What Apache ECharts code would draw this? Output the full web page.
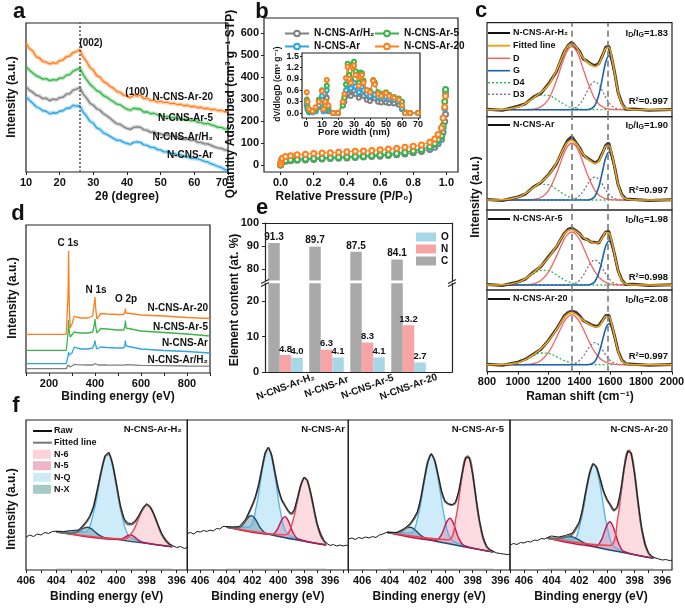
<!DOCTYPE html>
<html><head><meta charset="utf-8">
<script src="https://cdn.jsdelivr.net/npm/echarts@6/dist/echarts.min.js"></script>
<style>html,body{margin:0;padding:0;background:#fff;}#chart{width:685px;height:608px;}</style>
</head><body><div id="chart"></div>
<script>
// ================= DATA =================
// (a) XRD
const xrdX = [10,11,12,13,14,15,16,17,18,19,20,21,22,23,24,25,26,27,28,29,30,31,32,33,34,35,36,37,38,39,40,41,42,43,44,45,46,47,48,49,50,51,52,53,54,55,56,57,58,59,60,61,62,63,64,65,66,67,68,69,70];
const xrd20 = [128,123,120.5,115,113.5,110,109.5,107.5,109,108,111,111.5,115,115.5,119,120,122,114.5,110,104,101.5,96,94.5,90,88.5,85,83.5,80,79.5,76.5,75.5,74,76.5,75.5,76.5,73,73.5,71,71.5,69.5,70.5,69,69.5,68,68.5,67,67.5,66,66.5,65,65.5,64,64.5,63,63.5,62,62.5,61,61.5,60,60];
const xrd5 = [105,101.5,98.5,96,94.5,92.5,93,91,92,91.5,93.5,93.5,96.5,97,100.5,102,103.5,97,92,87.5,84.5,81,79.5,76,74.5,72,70,67.5,67,64.5,62.5,61.5,63.5,63,62.5,59.5,60,58,58.5,57,56.5,55,55.5,54,54.5,53,53.5,52,52.5,51,51.5,49.5,49.5,48,48.5,47,46,44.5,44.5,43,42.5];
const xrdH2 = [85,81.5,79.5,76.5,75.5,73,73.5,71,72.5,72,74,74.5,77.5,78,81.5,82.5,84,77.5,73.5,68.5,66.5,63,61.5,58,56,53.5,50.5,48,47.5,45,43.5,42.5,44.5,45,44.5,42,41.5,39.5,40,38,38,36.5,37,35.5,36,35,34,32.5,33,31.5,32,29.5,29.5,28,28,26.5,25,24,23.5,22,22];
const xrdAr = [75,71.5,68.5,65,63.5,61,60.5,58,59,58.5,60.5,61,63.5,63.5,66.5,65.5,66,59.5,55.5,50.5,48.5,44,42.5,39,37.5,35.5,33.5,31.5,31.5,29.5,28.5,27.5,29.5,30,29.5,27,26.5,24.5,24.5,22.5,22,20,20,18.5,18.5,17,17,15.5,15.5,13.5,13.5,13,12,10.5,10,8,7,5.5,4.5,2.5,1.5];
const xrdPeak = [26];
const aTicks = [10,20,30,40,50,60,70];

// (b) N2 isotherms + PSD inset
const isoX = [0,0.002,0.005,0.01,0.03,0.06,0.1,0.15,0.2,0.25,0.3,0.35,0.4,0.45,0.5,0.55,0.6,0.65,0.7,0.75,0.8,0.85,0.9,0.93,0.95,0.97,0.98,0.99,0.995];
const isoH2 = [2,7,12,15,19,21,23,25,27,29,31,33,34,36,38,40,42,45,48,52,57,63,72,82,98,118,150,200,232];
const isoAr = [3,9,15,19,24,27,29,31,33,35,37,38,40,42,44,46,49,52,56,61,67,74,82,95,110,130,170,260,330];
const iso5 = [2,8,14,18,22,25,27,29,31,33,35,37,38,40,42,44,47,50,54,59,65,72,85,100,118,135,180,290,345];
const iso20 = [5,15,25,32,40,44,48,51,54,56,58,60,62,64,66,68,71,74,78,82,87,93,105,120,140,170,215,265,315];
const psdX = [0.5,1,2,4,6,8,10,11,12,13,14,17,20,23,24,25,26,27,28,29,30,31,33,34,35,36,38,40,42,43,45,47,50,52,55,58,60,62,65,70];
const psd20 = [0.55,0.3,0.1,0.05,0.15,0.3,0.58,0.1,0.3,0.87,0.2,0,0,0.3,0.5,0.92,1.22,0.9,0.8,1.2,1.25,1.0,0.72,0.95,1.0,0.8,0.6,0.55,0.85,0.75,0.5,0.45,0.52,0.45,0.4,0.35,0.2,0,0,0];
const psd5 = [0.35,0.15,0.05,0.05,0.1,0.35,0.6,0.1,0.2,0.72,0.15,0,0,0.2,0.4,0.75,1.3,1.0,0.9,1.28,1.35,1.1,0.8,1.07,1.05,0.85,0.6,0.58,0.87,0.8,0.55,0.5,0.55,0.48,0.42,0.38,0.3,0.02,0,0];
const psdAr = [0.25,0.1,0.02,0.02,0.05,0.2,0.45,0.05,0.15,0.6,0.1,0,0,0.25,0.4,0.6,0.85,0.7,0.65,0.82,0.8,0.7,0.55,0.7,0.68,0.6,0.5,0.45,0.5,0.48,0.42,0.4,0.42,0.38,0.35,0.3,0.12,0,0,0];
const psdH2 = [0.2,0.1,0.02,0.02,0.05,0.15,0.35,0.05,0.1,0.4,0.05,0,0,0.2,0.3,0.45,0.55,0.5,0.45,0.6,0.58,0.5,0.4,0.55,0.52,0.45,0.35,0.32,0.4,0.38,0.3,0.28,0.28,0.26,0.25,0.22,0.1,0,0,0];
const bXTicks = [0,0.2,0.4,0.6,0.8,1.0];
const bYTicks = [0,100,200,300,400,500,600];
const bInXTicks = [0,10,20,30,40,50,60,70];
const bInYTicks = [0,0.3,0.6,0.9,1.2,1.5];

// (c) Raman
const ramanX = [800,900,1000,1050,1100,1150,1200,1250,1300,1325,1350,1375,1400,1425,1450,1475,1500,1525,1550,1570,1590,1610,1630,1650,1675,1700,1750,1850,2000];
const ramanPeaks = [1350,1585];
const raman1Raw = [7.5,6.5,10.5,13,19.5,23.5,33,45,65,71,74.5,70,65.5,57.5,55.5,52.5,51,53,61.5,69.5,70.5,58,42.5,24.5,13.5,7.5,7.8,6.5,7.2];
const raman1Fit = [7,7.2,9.6,13.2,18.6,24.4,32,46.1,64,70.6,72.7,70.1,64.6,58.5,54.6,52,50,52.5,61.2,68.2,69,58.6,41.7,25,12.6,8.2,7,7,7];
const raman1D = [7,7,7,7,7.5,9.8,17.7,36,58.7,66.9,70,66.9,58.7,47.3,36,25.9,17.7,12.7,9.8,8.4,7.7,7.3,7.1,7,7,7,7,7,7];
const raman1G = [7,7,7,7,7,7,7,7,7,7,7,7,7,7,7,7.9,11.3,21.6,39.9,54.5,61,54.5,39.9,24.3,12.4,8.2,7,7,7];
const raman1D4 = [7,7.2,9.6,13.2,18.1,21.6,21.3,17.1,12.3,10.5,9,8.1,7.6,7.3,7.1,7,7,7,7,7,7,7,7,7,7,7,7,7,7];
const raman1D3 = [7,7,7,7,7,7,7,7,7,7.2,7.7,9.1,12.3,17.9,25.5,32.2,35,32.2,25.5,19.3,14.3,10.8,8.7,7.7,7.2,7,7,7,7];
const raman2Raw = [10.5,9.5,13,16,23,27.5,35.5,46,63,70,73.5,68,62.5,55,52,49.5,47,49.5,57.5,64.5,67,55,41.5,25.5,15.5,11,10.5,9.5,10.3];
const raman2Fit = [10,10.2,12.7,16.6,22.3,28.1,34.9,46.9,62.3,68,69.8,67.1,61.7,55.8,51.5,48.6,46.5,48.8,57,63.6,64.6,55.6,40.8,26,14.9,11.1,10,10,10];
const raman2D = [10,10,10,10,10.5,12.5,19.7,36.2,56.7,64.2,67,64.2,56.7,46.5,36.2,27.1,19.7,15.1,12.5,11.3,10.6,10.3,10.1,10,10,10,10,10,10];
const raman2G = [10,10,10,10,10,10,10,10,10,10,10,10,10,10,10,10.8,13.8,23,39.3,52.2,58,52.2,39.3,25.4,14.8,11.1,10,10,10];
const raman2D4 = [10,10.2,12.7,16.6,21.8,25.6,25.2,20.7,15.6,13.7,12.2,11.2,10.6,10.3,10.1,10,10,10,10,10,10,10,10,10,10,10,10,10,10];
const raman2D3 = [10,10,10,10,10,10,10,10,10,10.1,10.6,11.7,14.4,19,25.2,30.7,33,30.7,25.2,20.1,16,13.1,11.4,10.6,10.1,10,10,10,10];
const raman3Raw = [5.5,4.5,8,11,17.8,23.5,33.5,43,56.5,60.5,62,59.5,56.5,51.5,50.5,48,47.5,47,53.5,58,58.5,47,34,19.5,10,5.5,5.8,4.5,5.3];
const raman3Fit = [5,5.2,7.6,11.4,17.2,24.1,32.6,43.7,55.9,59.5,60.6,58.9,56,52.7,50.2,48.3,46.8,47.4,52.8,57.4,57,47.9,33.7,19.9,9.5,6,5,5,5];
const raman3D = [5,5,5,5.2,6.1,9.5,18.3,33.6,50.6,55.9,58,55.9,50.6,42.6,33.6,25.1,18.3,13,9.5,7.7,6.5,5.8,5.4,5.2,5,5,5,5,5];
const raman3G = [5,5,5,5,5,5,5,5,5,5,5,5,5,5,5,5.7,8.5,16.9,31.8,43.7,49,43.7,31.8,19.1,9.4,6,5,5,5];
const raman3D4 = [5,5.2,7.6,11.2,16.1,19.6,19.3,15.1,10.3,8.5,7,6.1,5.6,5.3,5.1,5,5,5,5,5,5,5,5,5,5,5,5,5,5];
const raman3D3 = [5,5,5,5,5,5,5,5,5,5.2,5.6,6.9,9.8,14.8,21.5,27.5,30,27.5,21.5,16,11.5,8.4,6.5,5.6,5.2,5,5,5,5];
const raman4Raw = [7.5,6.5,9.5,12.5,17.5,22.5,31.5,42.5,55.5,59,60.5,59.5,56,51,49,47,45.5,46,51.5,56,56.5,46,34,21,11.5,8,7.5,6.5,7.2];
const raman4Fit = [7,7.1,9,12.1,16.9,22.9,30.9,42,54.2,57.9,59.1,57.6,54.7,51.3,48.6,46.5,44.8,45.4,50.7,55.3,55.1,46.8,33.7,20.8,11.2,7.9,7,7,7];
const raman4D = [7,7,7,7.2,8,11.2,19.5,34,50,55,57,55,50,42.5,34,26,19.5,14.5,11.2,9.5,8.4,7.8,7.4,7.2,7,7,7,7,7];
const raman4G = [7,7,7,7,7,7,7,7,7,7,7,7,7,7,7,7.7,10.3,18.1,32,43.1,48,43.1,32,20.1,11.1,7.9,7,7,7];
const raman4D4 = [7,7.1,9,11.9,15.9,18.7,18.4,15,11.2,9.8,8.6,7.9,7.5,7.2,7.1,7,7,7,7,7,7,7,7,7,7,7,7,7,7];
const raman4D3 = [7,7,7,7,7,7,7,7,7,7.1,7.5,8.7,11.2,15.6,21.5,26.8,29,26.8,21.5,16.7,12.7,10,8.3,7.5,7.1,7,7,7,7];
const ramanRatios = ['1.83','1.90','1.98','2.08'];
const ramanR2 = ['0.997','0.997','0.998','0.997'];
const cTicks = [800,1000,1200,1400,1600,1800,2000];

// (d) XPS survey
const surveyX = [100,275,280,283,285,288,292,300,310,320,340,370,390,397,400,403,408,415,425,450,500,525,530,532,535,540,600,700,800,900];
const survey20 = [38.7,38.7,40,80,122,70,45,49,57,56,55,55,57,70,76,65,54,56,59.5,59,58.5,58.5,61,64.5,60,58.5,58,57,55.5,54.5];
const survey5 = [22.7,22.7,24,40,53,42,36,38,41,40.5,40,40,41,48,54,47,40,42,44.5,44,43,43,47,52.5,45,43,42,40.5,39,37];
const surveyAr = [9.4,9.4,10,17,21,18,16,20,26,25,24,24,25,29,32.5,28,24,25,26,25.5,25,25,28,32.5,27,25,24,22.5,21.5,20];
const surveyH2 = [4.4,4.4,5,8,9.4,7,6,7,8.5,8.3,8.2,8,8,8.8,9.3,8.6,8,8,8.2,8,7.8,7.8,8.5,9.3,8.3,7.8,7.6,7.3,7,6.8];
const dTicks = [200,400,600,800];
const dMinor = [100,200,300,400,500,600,700,800,900];

// (e) element content
const eCats = ['N-CNS-Ar-H₂','N-CNS-Ar','N-CNS-Ar-5','N-CNS-Ar-20'];
const eC = [91.3,89.7,87.5,84.1];
const eN = [4.8,6.3,8.3,13.2];
const eO = [4.0,4.1,4.1,2.7];
const eUpperTicks = [80,90,100];
const eLowerTicks = [0,10,20];

// (f) N 1s high-resolution
const fTicks = [396,398,400,402,404,406];
const fMinor = [395,396,397,398,399,400,401,402,403,404,405,406,407];
const xps12FitX = [404,403.5,403,402.5,402,401.75,401.5,401.25,401,400.75,400.5,400.25,400,399.75,399.5,399.25,399,398.75,398.5,398.25,398,397.75,397.5,397.25,397,396.75,396.5,396.3];
const xps1Fit = [38.3,37.3,36.8,39.4,47.7,54.1,64.6,81.0,99.1,113.6,115.9,104.9,85.1,64.5,51.0,45.6,45.5,48.6,54.3,61.0,64.9,62.6,54.8,45.0,35.7,29.6,25.9,24.2];
const xps1RawX = [406,405.75,405.5,405.25,405,404.75,404.5,404.25,404,403.5,403,402.5,402,401.75,401.5,401.25,401,400.75,400.5,400.25,400,399.75,399.5,399.25,399,398.75,398.5,398.25,398,397.75,397.5,397.25,397,396.75,396.5,396.3,396,395.75,395.5,395.3];
const xps1Raw = [33,35,33.5,36,35,37.5,36.5,38.5,38.8,38.5,39.5,40,48.5,54,64,81.5,99.5,114.5,118,106,86,65,51.5,47,46.5,49,55,62,66.5,63,55,45.5,36.5,30,26,24.5,22.5,23.5,21.5,22.5];
const xps1Bg = [[404,38.3],[396.3,23.3]];
const xps1NQ = [[404,38.3],[402.07,38.2],[401.47,60.6],[401.17,84.7],[400.87,107.0],[400.57,116.6],[400.27,105.8],[399.97,82.4],[399.67,57.1],[399.07,32.4],[396.3,23.3]];
const xps1N6 = [[404,38.3],[399.44,31.1],[398.84,40.5],[398.54,51.2],[398.24,61.0],[397.94,65.0],[397.64,59.8],[397.34,48.8],[397.04,37.0],[396.44,25.3],[396.3,23.3]];
const xps1N5 = [[404,38.3],[399.93,30.7],[399.58,31.7],[399.4,33.1],[399.23,34.5],[399.05,35.0],[398.88,33.8],[398.7,31.8],[398.53,29.6],[398.18,27.3],[396.3,23.3]];
const xps1NX = [[404,38.3],[403.03,36.8],[402.58,38.2],[402.35,40.3],[402.13,42.2],[401.9,42.7],[401.68,41.3],[401.45,38.5],[401.23,35.6],[400.78,32.4],[396.3,23.3]];
const xps2Fit = [43.0,41.9,42.3,50.3,64.4,72.8,85.4,101.1,116.5,121.8,114.0,97.6,81.3,70.7,65.0,59.3,56.0,60.0,71.9,85.0,92.1,89.1,76.7,60.9,45.7,35.2,29.2,26.6];
const xps2RawX = [407,406.75,406.5,406.25,406,405.75,405.5,405.25,405,404.75,404.5,404.25,404,403.5,403,402.5,402,401.75,401.5,401.25,401,400.75,400.5,400.25,400,399.75,399.5,399.25,399,398.75,398.5,398.25,398,397.75,397.5,397.25,397,396.75,396.5,396.3,396,395.75,395.5,395.25,395,394.75,394.6];
const xps2Raw = [36.5,37.5,36,38.5,38,39.5,38.5,40,39,41.5,41,43.5,43.5,43,43.5,50.8,65,73.5,85,101.5,117.3,123,114.8,97.4,81.8,71.2,64.5,59.8,56.5,60.4,72.5,85.5,93,89.6,77.3,61.4,46.2,35.8,29.6,27,24.5,25.5,24,25,24,24.8,24];
const xps2Bg = [[404,43.0],[396.3,25.0]];
const xps2NQ = [[404,43.0],[402.26,42.7],[401.66,65.0],[401.36,89.3],[401.06,111.8],[400.76,121.4],[400.46,110.4],[400.16,86.5],[399.86,60.8],[399.26,35.7],[396.3,25.0]];
const xps2N6 = [[404,43.0],[399.43,35.1],[398.83,51.2],[398.53,68.9],[398.23,85.4],[397.93,92.3],[397.63,84.0],[397.33,66.1],[397.03,47.0],[396.43,28.1],[396.3,25.0]];
const xps2N5 = [[404,43.0],[400.47,35.6],[400.07,40.5],[399.87,46.1],[399.67,51.4],[399.47,53.4],[399.27,50.4],[399.07,44.3],[398.87,37.7],[398.47,31.0],[396.3,25.0]];
const xps2NX = [[404,43.0],[403.17,41.8],[402.72,45.1],[402.49,49.3],[402.27,53.1],[402.04,54.4],[401.82,52.0],[401.59,47.2],[401.37,42.0],[400.92,36.5],[396.3,25.0]];
const xps3FitX = [404.2,403.75,403.5,403,402.5,402,401.75,401.5,401.25,401,400.75,400.5,400.25,400,399.75,399.5,399.25,399,398.75,398.5,398.25,398,397.75,397.5,397.25,397,396.75,396.5];
const xps3Fit = [37.7,36.9,37.1,40.4,46.1,57.5,71.5,90.6,108.0,115.6,109.4,94.4,78.0,68.5,65.8,64.9,67.1,78.6,97.3,112.3,112.2,96.0,70.6,48.1,31.8,23.6,19.9,18.3];
const xps3RawX = [407,406.75,406.5,406.25,406,405.75,405.5,405.25,405,404.75,404.5,404.25,404.2,403.75,403.5,403,402.5,402,401.75,401.5,401.25,401,400.75,400.5,400.25,400,399.75,399.5,399.25,399,398.75,398.5,398.25,398,397.75,397.5,397.25,397,396.75,396.5,396.25,396,395.75,395.5,395.3];
const xps3Raw = [31,32,30.5,32.5,31.5,33,32,33.5,32.5,35,36,37.5,38,37.5,37.6,40.9,46.5,58,72,91,108.5,116.5,109.8,94.8,78.4,69,66.2,65.3,67.5,79,97.7,113,112.8,96.4,71,48.5,32.2,24,20.3,18.6,17,16.5,16,15.5,15.7];
const xps3Bg = [[404.2,37.7],[396.5,18.0]];
const xps3NQ = [[404.2,37.7],[402.47,37.1],[401.87,59.2],[401.57,83.5],[401.27,105.9],[400.97,115.4],[400.67,104.4],[400.37,80.4],[400.07,54.6],[399.47,29.4],[396.5,18.0]];
const xps3N6 = [[404.2,37.7],[399.74,30.3],[399.19,54.2],[398.91,80.0],[398.64,104.0],[398.36,114.3],[398.09,102.6],[397.81,77.2],[397.54,50.0],[396.99,23.3],[396.5,18.0]];
const xps3N5 = [[404.2,37.7],[400.64,29.7],[400.24,35.8],[400.04,42.8],[399.84,49.1],[399.64,51.7],[399.44,48.1],[399.24,40.7],[399.04,32.7],[398.64,24.6],[396.5,18.0]];
const xps3NX = [[404.2,37.7],[403.74,36.9],[403.24,38.2],[402.99,40.3],[402.74,42.3],[402.49,42.7],[402.24,41.0],[401.99,37.7],[401.74,34.4],[401.24,30.5],[396.5,18.0]];
const xps4FitX = [404.3,404,403.5,403,402.5,402,401.75,401.5,401.25,401,400.75,400.5,400.25,400,399.75,399.5,399.25,399,398.75,398.5,398.25,398,397.75,397.5,397.25,397,396.75,396.6];
const xps4Fit = [31.9,31.4,31.6,33.0,35.8,47.3,61.0,79.8,96.5,105.8,102.6,91.2,78.7,70.3,64.7,59.4,62.9,78.5,102.3,118.4,116.6,96.2,67.6,42.0,25.5,17.0,13.3,12.1];
const xps4RawX = [407,406.75,406.5,406.25,406,405.75,405.5,405.25,405,404.75,404.5,404.3,404,403.5,403,402.5,402,401.75,401.5,401.25,401,400.75,400.5,400.25,400,399.75,399.5,399.25,399,398.75,398.5,398.25,398,397.75,397.5,397.25,397,396.75,396.6,396.25,396,395.75,395.5,395.3];
const xps4Raw = [25,26.5,25.5,27.5,27,28.5,28,30,29.5,31.5,31,32.5,34,33,34.5,37,47.8,61.5,80.5,97,106.5,103,91.8,79,70.8,65.5,60,63.4,79,103,119.2,117.3,96.8,68,42.5,25.8,17.3,13.6,12.5,11,10,10.5,9.5,9.8];
const xps4Bg = [[404.3,31.7],[396.6,11.7]];
const xps4NQ = [[404.3,31.7],[402.44,30.5],[401.84,51.8],[401.54,74.9],[401.24,96.6],[400.94,105.7],[400.64,95.0],[400.34,71.8],[400.04,47.1],[399.44,22.7],[396.6,11.7]];
const xps4N6 = [[404.3,31.7],[399.77,24.5],[399.22,51.7],[398.94,81.1],[398.67,108.4],[398.39,120.1],[398.12,106.9],[397.84,78.2],[397.57,47.4],[397.02,17.4],[396.6,11.7]];
const xps4N5 = [[404.3,31.7],[400.78,23.8],[400.38,30.6],[400.18,38.3],[399.98,45.4],[399.78,48.3],[399.58,44.3],[399.38,36.2],[399.18,27.5],[398.78,18.6],[396.6,11.7]];
const xps4NX = [[404.3,31.7],[404.18,31.7],[403.53,31.6],[403.2,32.5],[402.88,33.3],[402.55,33.2],[402.23,31.6],[401.9,29.2],[401.58,26.5],[400.93,23.2],[396.6,11.7]];

// ================= BUILD =================
const FONT = "'Liberation Sans', Arial, Helvetica, 'DejaVu Sans', sans-serif";
const INK = '#111';
const COL = {orange:'#ff7f1e', green:'#3ab54a', gray:'#808080', blue:'#2ea7e0'};
const grid = [], xAxis = [], yAxis = [], series = [], graphic = [], legend = [];

function lab(size, margin, extra){ return Object.assign({show:true, color:INK, fontFamily:FONT, fontWeight:'bold', fontSize:size, margin:margin, formatter:v=>String(v)}, extra||{}); }
function tk(vals, inside, len){ return {show:true, inside: inside===true, length: len||3, customValues: vals, lineStyle:{color:'#222', width:1}}; }
const LINE = {show:true, onZero:false, lineStyle:{color:'#222', width:1.2}};
function ax(o){ return Object.assign({type:'value', axisLine:{show:false, onZero:false}, axisTick:{show:false}, axisLabel:{show:false}, splitLine:{show:false}, z:6}, o); }
function addGrid(rect, xo, yo, frame){
  grid.push(Object.assign({show: frame!==false, borderColor:'#222', borderWidth:1.2, backgroundColor:'transparent', containLabel:false, outerBoundsMode:'none'}, rect));
  const gi = grid.length-1;
  xAxis.push(ax(Object.assign({gridIndex:gi}, xo)));
  yAxis.push(ax(Object.assign({gridIndex:gi}, yo)));
  return {gi:gi, xAxisIndex:xAxis.length-1, yAxisIndex:yAxis.length-1};
}
function on(g){ return {xAxisIndex:g.xAxisIndex, yAxisIndex:g.yAxisIndex}; }
function pairs(xs, ys){ return xs.map((x,i)=>[x, ys[i]]); }
function T(x,y,text,o){ o=o||{}; const size=o.size||10; const al=o.align||'center'; const va=o.va||'middle';
  graphic.push({type:'text', x:x, y:y, rotation:o.rot||0, z:100, silent:true,
    style:{text:text, fill:o.color||INK, font:'bold '+size+'px '+FONT, align:al, verticalAlign:va, textAlign:al, textVerticalAlign:va, rich:o.rich}});
}
function LG(x1,x2,y,color,w,dash){ graphic.push({type:'line', z:100, silent:true, shape:{x1:x1,y1:y,x2:x2,y2:y}, style:{stroke:color, lineWidth:w, lineDash:dash||null}}); }
function SEG(x1,y1,x2,y2,color,w){ graphic.push({type:'line', z:100, silent:true, shape:{x1:x1,y1:y1,x2:x2,y2:y2}, style:{stroke:color, lineWidth:w}}); }
function RC(x,y,w,h,fill){ graphic.push({type:'rect', z:100, silent:true, shape:{x:x,y:y,width:w,height:h}, style:{fill:fill}}); }
function richSub(size){ return {
  m:{fontSize:size, fontWeight:'bold', fontFamily:FONT, fill:INK, color:INK},
  s:{fontSize:Math.round(size*0.72), fontWeight:'bold', fontFamily:FONT, fill:INK, color:INK, padding:[Math.round(size*0.55),0,0,0]} }; }

// ---- panel letters
T(19,12,'a',{size:22}); T(262,12,'b',{size:22}); T(481,11,'c',{size:22});
T(18,214,'d',{size:22}); T(262,208,'e',{size:22}); T(16,406,'f',{size:22});

// ---- (a)
const A = addGrid({left:26, top:23, width:202, height:149},
  {min:10, max:70, axisTick:tk(aTicks), axisLabel:lab(11,5,{customValues:aTicks, alignMaxLabel:'right'})},
  {min:0, max:148.4});
[[xrdAr,COL.blue],[xrdH2,COL.gray],[xrd5,COL.green],[xrd20,COL.orange]].forEach(function(s,i){
  const data = pairs(xrdX, s[0]);
  series.push(Object.assign({type:'line', name:'xrd-halo-'+i, data:data, symbol:'none', silent:true, z:2, lineStyle:{color:s[1], width:4, opacity:0.35}}, on(A)));
  const main = Object.assign({type:'line', name:'xrd-'+i, data:data, symbol:'none', silent:true, z:3, lineStyle:{color:s[1], width:1.3}}, on(A));
  if(i===3) main.markLine = {silent:true, symbol:['none','none'], label:{show:false}, lineStyle:{color:'#555', type:[2,2], width:1.5}, data: xrdPeak.map(v=>({xAxis:v}))};
  series.push(main);
});
T(91,43,'(002)',{size:10}); T(137,92,'(100)',{size:10});
T(213,97,'N-CNS-Ar-20',{size:10, align:'right'});
T(213,118,'N-CNS-Ar-5',{size:10, align:'right'});
T(213,137,'N-CNS-Ar/H₂',{size:10, align:'right'});
T(213,155,'N-CNS-Ar',{size:10, align:'right'});
T(12,97,'Intensity (a.u.)',{size:12, rot:Math.PI/2});
T(127,197,'2θ (degree)',{size:12});

// ---- (b)
const B = addGrid({left:264, top:18, width:194, height:154},
  {min:-0.1, max:1.07, axisTick:tk(bXTicks), axisLabel:lab(11,5,{customValues:bXTicks, formatter:v=>(+v).toFixed(1)})},
  {min:-30, max:670, axisTick:tk(bYTicks), axisLabel:lab(11,5,{customValues:bYTicks})});
const BI = addGrid({left:302, top:53, width:118, height:65},
  {min:-2.5, max:71.25, axisTick:tk(bInXTicks,false,2), axisLabel:lab(9,2,{customValues:bInXTicks})},
  {min:-0.13, max:1.58, axisTick:tk(bInYTicks,false,2), axisLabel:lab(9,3,{customValues:bInYTicks, formatter:v=>(+v).toFixed(1)})});
const bSets = [['N-CNS-Ar/H₂',isoH2,psdH2,COL.gray],['N-CNS-Ar',isoAr,psdAr,COL.blue],['N-CNS-Ar-5',iso5,psd5,COL.green],['N-CNS-Ar-20',iso20,psd20,COL.orange]];
bSets.forEach(function(s){
  series.push(Object.assign({type:'line', name:s[0], data:pairs(isoX,s[1]), symbol:'emptyCircle', symbolSize:5, silent:true, z:3,
    lineStyle:{color:s[3], width:1}, itemStyle:{color:s[3], borderWidth:1.2}}, on(B)));
});
bSets.forEach(function(s){
  series.push(Object.assign({type:'line', name:s[0], data:pairs(psdX,s[2]), symbol:'emptyCircle', symbolSize:4, silent:true, z:3,
    lineStyle:{color:s[3], width:1}, itemStyle:{color:s[3], borderWidth:1.1}}, on(BI)));
});
const bLegText = {fontFamily:FONT, fontWeight:'bold', fontSize:10, color:INK, lineHeight:11};
legend.push({left:279, top:23, orient:'vertical', itemGap:2, itemWidth:24, itemHeight:7, selectedMode:false, data:['N-CNS-Ar/H₂','N-CNS-Ar'], textStyle:bLegText});
legend.push({left:369, top:23, orient:'vertical', itemGap:2, itemWidth:24, itemHeight:7, selectedMode:false, data:['N-CNS-Ar-5','N-CNS-Ar-20'], textStyle:bLegText});
T(231,104,'Quantity Adsorbed (cm³ g⁻¹ STP)',{size:12, rot:Math.PI/2});
T(344,197,'Relative Pressure (P/P₀)',{size:12});
T(278,84,'dV/dlogD (cm³ g⁻¹)',{size:8.5, rot:Math.PI/2});
T(354,132,'Pore width (nm)',{size:9.5});

// ---- (c)
const ramanSets = [
  {top:22.7, h:94,  raw:raman1Raw, fit:raman1Fit, D:raman1D, G:raman1G, D4:raman1D4, D3:raman1D3, name:'N-CNS-Ar-H₂', ly:33,  ry:101.7},
  {top:116.7,h:93.3,raw:raman2Raw, fit:raman2Fit, D:raman2D, G:raman2G, D4:raman2D4, D3:raman2D3, name:'N-CNS-Ar',   ly:125, ry:190},
  {top:210,  h:80,  raw:raman3Raw, fit:raman3Fit, D:raman3D, G:raman3G, D4:raman3D4, D3:raman3D3, name:'N-CNS-Ar-5', ly:219, ry:277},
  {top:290,  h:81.7,raw:raman4Raw, fit:raman4Fit, D:raman4D, G:raman4G, D4:raman4D4, D3:raman4D3, name:'N-CNS-Ar-20',ly:299, ry:356.7}];
ramanSets.forEach(function(s,k){
  const last = k===ramanSets.length-1;
  const g = addGrid({left:487, top:s.top, width:185, height:s.h},
    {min:800, max:2000, axisTick: last? tk(cTicks):{show:false}, axisLabel: last? lab(11,5,{customValues:cTicks}):{show:false}},
    {min:0, max:s.h});
  function comp(d,color,w,type){ series.push(Object.assign({type:'line', name:'raman-c', data:pairs(ramanX,d), symbol:'none', smooth:0.4, silent:true, z:2, lineStyle:{color:color, width:w, type:type}}, on(g))); }
  comp(s.D4,'#2dbb4f',1.3,[2,2]);
  comp(s.D3,'#77778f',1.3,[2,2]);
  comp(s.D,'#f26464',1.3,'solid');
  comp(s.G,'#1a63ad',1.6,'solid');
  series.push(Object.assign({type:'line', name:'raman-raw', data:pairs(ramanX,s.raw), symbol:'none', silent:true, z:3, lineStyle:{color:'#3a3a3a', width:3}}, on(g)));
  series.push(Object.assign({type:'line', name:'raman-fit', data:pairs(ramanX,s.fit), symbol:'none', smooth:0.4, silent:true, z:4, lineStyle:{color:'#f4a417', width:1.5},
    markLine:{silent:true, symbol:['none','none'], label:{show:false}, lineStyle:{color:'#7a7a7a', type:[6,4], width:1.6}, data: ramanPeaks.map(v=>({xAxis:v}))}}, on(g)));
  LG(488,510,s.ly,'#111',2);
  T(513,s.ly,s.name,{size:9, align:'left'});
  T(668,s.ly,'{m|I}{s|D}{m|/I}{s|G}{m|='+ramanRatios[k]+'}',{size:9.5, align:'right', rich:richSub(9.5)});
  T(668,s.ry,'R²='+ramanR2[k],{size:9.5, align:'right'});
});
const cLeg = [['Fitted line','#f4a417',2,null,45.7],['D','#f26464',1.5,null,58.3],['G','#1a63ad',1.6,null,70.7],['D4','#2dbb4f',1.4,[2,2],82.7],['D3','#77778f',1.4,[2,2],94.3]];
cLeg.forEach(function(r){ LG(488,510,r[4],r[1],r[2],r[3]); T(513,r[4],r[0],{size:9, align:'left'}); });
T(476,197,'Intensity (a.u.)',{size:12, rot:Math.PI/2});
T(580,397,'Raman shift (cm⁻¹)',{size:12});

// ---- (d)
const D = addGrid({left:26, top:225, width:184, height:148},
  {min:100, max:900, axisTick:tk(dMinor), axisLabel:lab(11,5,{customValues:dTicks})},
  {min:0, max:148});
[[surveyH2,COL.gray],[surveyAr,COL.blue],[survey5,COL.green],[survey20,COL.orange]].forEach(function(s,i){
  series.push(Object.assign({type:'line', name:'survey-'+i, data:pairs(surveyX,s[0]), symbol:'none', silent:true, z:3, lineStyle:{color:s[1], width:1.3}}, on(D)));
});
T(68,243,'C 1s',{size:10}); T(96,290,'N 1s',{size:10}); T(126,299,'O 2p',{size:10});
T(208,308,'N-CNS-Ar-20',{size:10, align:'right'});
T(208,327,'N-CNS-Ar-5',{size:10, align:'right'});
T(208,343,'N-CNS-Ar',{size:10, align:'right'});
T(208,360,'N-CNS-Ar/H₂',{size:10, align:'right'});
T(13,298,'Intensity (a.u.)',{size:12, rot:Math.PI/2});
T(118,397,'Binding energy (eV)',{size:12});

// ---- (e)
const EU = addGrid({left:265, top:223, width:187, height:57.5},
  {min:0.5, max:5.06, position:'top', axisLine:LINE},
  {min:75, max:100, axisLine:LINE, axisTick:tk(eUpperTicks,false,3), axisLabel:lab(11,6,{customValues:eUpperTicks})}, false);
yAxis.push(ax({gridIndex:EU.gi, position:'right', min:75, max:100, axisLine:LINE}));
const EL = addGrid({left:265, top:283.3, width:187, height:88.7},
  {min:0.5, max:5.06, axisLine:LINE, axisLabel:lab(10,15,{customValues:[1,2,3,4], rotate:20, align:'center', verticalAlign:'middle', formatter:v=>eCats[Math.round(v)-1]})},
  {min:0, max:25, axisLine:LINE, axisTick:tk(eLowerTicks,false,3), axisLabel:lab(11,6,{customValues:eLowerTicks})}, false);
yAxis.push(ax({gridIndex:EL.gi, position:'right', min:0, max:25, axisLine:LINE}));
const eCol = {C:'#a9a9a9', N:'#f8a3a5', O:'#a7d7e6'};
function bars(g, name, vals, labSize, blank){
  series.push(Object.assign({type:'bar', name:name, data: vals.map((v,i)=>[i+1, blank? '-' : v]), barWidth:11.5, barGap:'0%', silent:true, z:3,
    itemStyle:{color:eCol[name]},
    label: labSize? {show:true, position:'top', distance:1, color:INK, fontFamily:FONT, fontWeight:'bold', fontSize:labSize, formatter:p=>(+p.value[1]).toFixed(1)} : {show:false}}, on(g)));
}
bars(EU,'C',eC,10,false); bars(EU,'N',eN,0,true); bars(EU,'O',eO,0,true);
bars(EL,'C',eC,0,false); bars(EL,'N',eN,9.5,false); bars(EL,'O',eO,9.5,false);
legend.push({left:411, top:227, orient:'vertical', itemWidth:20, itemHeight:9, itemGap:2, icon:'rect', selectedMode:false, data:['O','N','C'],
  textStyle:{fontFamily:FONT, fontWeight:'bold', fontSize:10, color:INK, lineHeight:10}});
[265,452].forEach(function(x){ SEG(x-4,283.5,x+4,279.5,'#222',1.2); SEG(x-4,286.5,x+4,282.5,'#222',1.2); });
T(235,300,'Element content (at. %)',{size:12, rot:Math.PI/2});

// ---- (f)
const fSets = [
  {left:26,    width:161.3, min:395.3, max:406, rawX:xps1RawX, raw:xps1Raw, fitX:xps12FitX, fit:xps1Fit, bg:xps1Bg, NQ:xps1NQ, N6:xps1N6, N5:xps1N5, NX:xps1NX, name:'N-CNS-Ar-H₂', nx:181.7},
  {left:187.3, width:161,   min:394.6, max:407, rawX:xps2RawX, raw:xps2Raw, fitX:xps12FitX, fit:xps2Fit, bg:xps2Bg, NQ:xps2NQ, N6:xps2N6, N5:xps2N5, NX:xps2NX, name:'N-CNS-Ar', nx:345},
  {left:348.3, width:161.7, min:395.3, max:407, rawX:xps3RawX, raw:xps3Raw, fitX:xps3FitX,  fit:xps3Fit, bg:xps3Bg, NQ:xps3NQ, N6:xps3N6, N5:xps3N5, NX:xps3NX, name:'N-CNS-Ar-5', nx:504},
  {left:510,   width:162,   min:395.3, max:407, rawX:xps4RawX, raw:xps4Raw, fitX:xps4FitX,  fit:xps4Fit, bg:xps4Bg, NQ:xps4NQ, N6:xps4N6, N5:xps4N5, NX:xps4NX, name:'N-CNS-Ar-20', nx:668}];
const fSty = {NQ:{line:'#5db5e6', fill:'rgba(190,228,248,0.75)'}, N6:{line:'#ee4753', fill:'rgba(250,196,205,0.6)'}, N5:{line:'#c0174e', fill:'rgba(205,100,145,0.35)'}, NX:{line:'#1c4b70', fill:'rgba(95,145,150,0.45)'}};
fSets.forEach(function(s){
  const inR = v => v>=s.min-1e-9 && v<=s.max+1e-9;
  const g = addGrid({left:s.left, top:420, width:s.width, height:150},
    {min:s.min, max:s.max, inverse:true, axisTick:tk(fMinor.filter(inR)), axisLabel:lab(11,5,{customValues:fTicks.filter(inR)})},
    {min:0, max:150});
  ['NQ','N6','N5','NX'].forEach(function(k){
    series.push(Object.assign({type:'line', name:'xps-area', data:s[k], symbol:'none', smooth:0.3, silent:true, z:1,
      lineStyle:{opacity:0, width:0}, areaStyle:{color:fSty[k].fill, opacity:1, origin:1.5}}, on(g)));
  });
  const b0 = s.bg[0], b1 = s.bg[s.bg.length-1];
  const mask = [[b0[0]+0.3, b0[1]]].concat(s.bg, [[b1[0]-0.3, b1[1]]]);
  series.push(Object.assign({type:'line', name:'xps-mask', data:mask, symbol:'none', silent:true, z:2,
    lineStyle:{opacity:0, width:0}, areaStyle:{color:'#ffffff', opacity:1, origin:1.5}}, on(g)));
  ['NQ','NX','N5','N6'].forEach(function(k){
    series.push(Object.assign({type:'line', name:'xps-line', data:s[k], symbol:'none', smooth:0.3, silent:true, z:3,
      lineStyle:{color:fSty[k].line, width:1.4}}, on(g)));
  });
  series.push(Object.assign({type:'line', name:'xps-fit', data:pairs(s.fitX,s.fit), symbol:'none', smooth:0.3, silent:true, z:4, lineStyle:{color:'#6e6e6e', width:2}}, on(g)));
  series.push(Object.assign({type:'line', name:'xps-raw', data:pairs(s.rawX,s.raw), symbol:'none', silent:true, z:5, lineStyle:{color:'#1a1a1a', width:1}}, on(g)));
  T(s.nx,429.5,s.name,{size:9.5, align:'right'});
  T(s.left+s.width/2,597,'Binding energy (eV)',{size:12});
});
LG(33,52,431,'#111',2); T(54,431,'Raw',{size:9, align:'left'});
LG(33,52,442.7,'#777',2); T(54,442.7,'Fitted line',{size:9, align:'left'});
[['N-6','#fbd3d9',454.3],['N-5','#efb5c8',465.7],['N-Q','#cfe9f7',477.3],['N-X','#a8cac7',489.3]].forEach(function(r){
  RC(33,r[2]-4.5,18,9,r[1]); T(54,r[2],r[0],{size:9, align:'left'});
});
T(12,509,'Intensity (a.u.)',{size:12, rot:Math.PI/2});

// ================= RENDER =================
const chart = echarts.init(document.getElementById('chart'), null, {renderer:'canvas'});
chart.setOption({
  animation:false, backgroundColor:'#fff', textStyle:{fontFamily:FONT},
  grid:grid, xAxis:xAxis, yAxis:yAxis, series:series, legend:legend,
  graphic:{elements:graphic}
});
</script></body></html>
